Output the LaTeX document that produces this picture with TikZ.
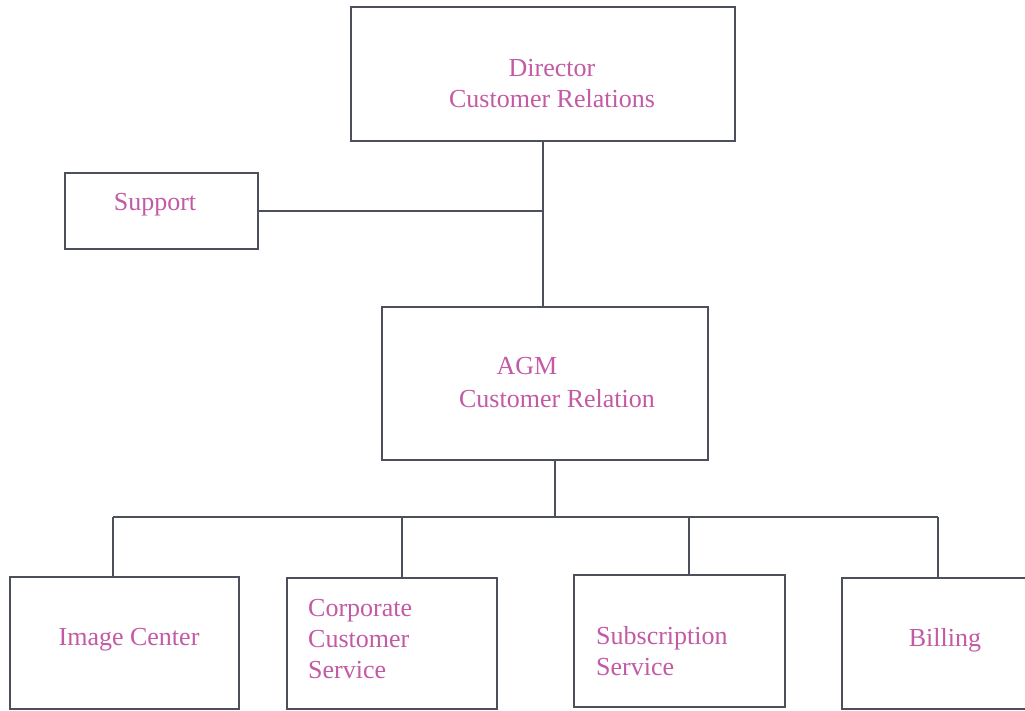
\documentclass[tikz,border=0pt]{standalone}
\usepackage{fontspec}
\setmainfont{Liberation Serif}
\definecolor{txtc}{RGB}{195,90,165}
\definecolor{linec}{RGB}{75,80,90}
\begin{document}
\begin{tikzpicture}[x=1pt,y=-1pt,
  box/.style={draw=linec, line width=1.6pt, rectangle, inner sep=0pt, fill=white},
  lbl/.style={text=txtc, font=\fontsize{26}{31}\selectfont, inner sep=0pt},
  conn/.style={draw=linec, line width=1.6pt}]
\useasboundingbox[fill=white] (0,0) rectangle (1025,711);
% boxes
\node[box, minimum width=384pt, minimum height=134pt] (dir) at (543,74) {};
\node[box, minimum width=193pt, minimum height=76pt] (sup) at (161.5,211) {};
\node[box, minimum width=326pt, minimum height=153pt] (agm) at (545,383.5) {};
\node[box, minimum width=229pt, minimum height=132pt] (img) at (124.5,643) {};
\node[box, minimum width=210pt, minimum height=131pt] (corp) at (392,643.5) {};
\node[box, minimum width=211pt, minimum height=132pt] (subs) at (679.5,641) {};
\node[box, minimum width=198pt, minimum height=131pt] (bill) at (941,643.5) {};
% labels
\node[lbl, align=center] (dirt) at (552,83.5) {Director\\Customer Relations};
\node[lbl] (supt) at (155,205) {Support};
\node[lbl] (agmt1) at (527,366.5) {AGM};
\node[lbl] (agmt2) at (557,398.5) {Customer Relation};
\node[lbl] (imgt) at (129,640) {Image Center};
\node[lbl, align=left, anchor=west] (corpt) at (308,639.5) {Corporate\\Customer\\Service};
\node[lbl, align=left, anchor=west] (subst) at (596,651) {Subscription\\Service};
\node[lbl] (billt) at (945,640) {Billing};
% connectors
\draw[conn] (dir.south) -- (dir.south |- agm.north);
\draw[conn] (sup.east) -- (sup.east -| dir.south);
\coordinate (bus) at (555,517);
\coordinate (d1) at (113,517);
\coordinate (d2) at (402,517);
\coordinate (d3) at (689,517);
\coordinate (d4) at (938,517);
\draw[conn] (agm.south -| bus) -- (bus);
\draw[conn] (d1) -- (d4);
\draw[conn] (d1) -- (d1 |- img.north);
\draw[conn] (d2) -- (d2 |- corp.north);
\draw[conn] (d3) -- (d3 |- subs.north);
\draw[conn] (d4) -- (d4 |- bill.north);
\end{tikzpicture}
\end{document}
